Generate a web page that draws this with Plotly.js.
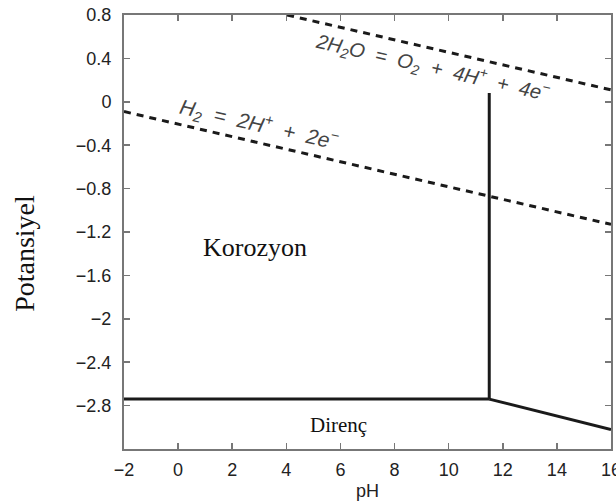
<!DOCTYPE html>
<html>
<head>
<meta charset="utf-8">
<script src="https://cdn.plot.ly/plotly-3.0.1.min.js"></script>
<style>html,body{margin:0;padding:0;background:#fff;}#chart{width:616px;height:503px;}</style>
</head>
<body>
<div id="chart"></div>
<script>
// Data
const h2LineX = [-2, 16];
const h2LineY = [-0.09, -1.13];
const o2LineX = [4.03, 16];
const o2LineY = [0.8, 0.11];
const verticalX = [11.5, 11.5];
const verticalY = [0.08, -2.74];
const lowerX = [-2, 11.5];
const lowerY = [-2.74, -2.74];
const diagX = [11.5, 16];
const diagY = [-2.74, -3.02];
const xTickVals = [-2, 0, 2, 4, 6, 8, 10, 12, 14, 16];
const xTickText = ["\u22122", "0", "2", "4", "6", "8", "10", "12", "14", "16"];
const yTickVals = [0.8, 0.4, 0, -0.4, -0.8, -1.2, -1.6, -2, -2.4, -2.8];
const yTickText = ["0.8", "0.4", "0", "\u22120.4", "\u22120.8", "\u22121.2", "\u22121.6", "\u22122", "\u22122.4", "\u22122.8"];

const dashed = {color: '#1a1a1a', width: 3, dash: '7px,6px'};
const solid = {color: '#1a1a1a', width: 3};

const traces = [
  {x: h2LineX, y: h2LineY, mode: 'lines', line: dashed, hoverinfo: 'skip'},
  {x: o2LineX, y: o2LineY, mode: 'lines', line: dashed, hoverinfo: 'skip'},
  {x: verticalX, y: verticalY, mode: 'lines', line: solid, hoverinfo: 'skip'},
  {x: lowerX, y: lowerY, mode: 'lines', line: solid, hoverinfo: 'skip'},
  {x: diagX, y: diagY, mode: 'lines', line: solid, hoverinfo: 'skip'}
];

const sans = 'Liberation Sans, Arial, sans-serif';
const serif = 'Liberation Serif, Times New Roman, serif';
const sp = ' \u00a0';

const layout = {
  width: 616, height: 503,
  margin: {l: 124, r: 5, t: 15, b: 54},
  paper_bgcolor: '#fff', plot_bgcolor: '#fff',
  showlegend: false,
  xaxis: {
    range: [-2, 16], tickvals: xTickVals, ticktext: xTickText,
    ticks: 'inside', ticklen: 6, tickwidth: 1.5, tickcolor: '#777',
    showline: true, linecolor: '#777', linewidth: 2, mirror: 'ticks',
    showgrid: false, zeroline: false, ticklabeloverflow: 'allow',
    ticklabelstandoff: 3,
    tickfont: {family: sans, size: 18, color: '#222'},
    title: {text: 'pH', font: {family: sans, size: 18, color: '#222'}, standoff: 6}
  },
  yaxis: {
    range: [-3.2, 0.8], tickvals: yTickVals, ticktext: yTickText,
    ticks: 'inside', ticklen: 6, tickwidth: 1.5, tickcolor: '#777',
    showline: true, linecolor: '#777', linewidth: 2, mirror: 'ticks',
    showgrid: false, zeroline: false, ticklabeloverflow: 'allow',
    ticklabelstandoff: 7,
    tickfont: {family: sans, size: 18, color: '#222'}
  },
  annotations: [
    {x: -0.203, y: 0.45, xref: 'paper', yref: 'paper', xanchor: 'center', yanchor: 'middle',
     showarrow: false, textangle: -90,
     text: 'Potansiyel', font: {family: serif, size: 28, color: '#111'}},
    {x: 3.0, y: -0.21, xref: 'x', yref: 'y', showarrow: false, textangle: 13,
     text: '<i>H<sub>2</sub>' + sp + '=' + sp + '2H<sup>+</sup>' + sp + '+' + sp + '2e<sup>\u2212</sup></i>',
     font: {family: sans, size: 21, color: '#444'}},
    {x: 9.42, y: 0.32, xref: 'x', yref: 'y', showarrow: false, textangle: 13,
     text: '<i>2H<sub>2</sub>O' + sp + '=' + sp + 'O<sub>2</sub>' + sp + '+' + sp + '4H<sup>+</sup>' + sp + '+' + sp + '4e<sup>\u2212</sup></i>',
     font: {family: sans, size: 20, color: '#444'}},
    {x: 2.86, y: -1.34, xref: 'x', yref: 'y', showarrow: false,
     text: 'Korozyon', font: {family: serif, size: 26, color: '#111'}},
    {x: 5.92, y: -2.98, xref: 'x', yref: 'y', showarrow: false,
     text: 'Diren\u00e7', font: {family: serif, size: 21, color: '#111'}}
  ]
};

Plotly.newPlot('chart', traces, layout, {displayModeBar: false, staticPlot: true});
</script>
</body>
</html>
